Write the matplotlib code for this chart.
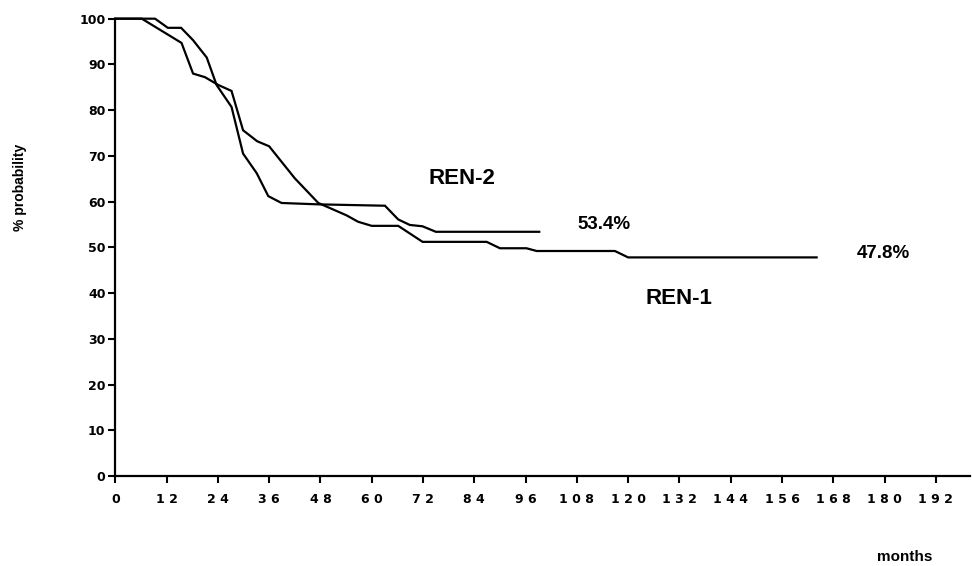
import matplotlib
matplotlib.use("Agg")
import matplotlib.pyplot as plt

# REN-1 curve (months, % probability)
ren1_months = [0, 6.2, 15.5, 18.2, 21.0, 24.1, 27.2, 29.9, 33.2, 36.0, 42.0, 47.5,
               54.1, 56.8, 60.0, 66.2, 71.9, 86.9, 90.0, 96.2, 98.6, 116.9, 120.0, 164.1]
ren1_prob = [100, 100, 94.7, 88.0, 87.2, 85.5, 84.2, 75.6, 73.2, 72.1, 65.1, 59.7,
             57.0, 55.6, 54.7, 54.7, 51.2, 51.2, 49.8, 49.8, 49.2, 49.2, 47.8, 47.8]

# REN-2 curve
ren2_months = [0, 9.3, 12.3, 15.4, 18.2, 21.4, 23.7, 27.2, 29.9, 33.1, 35.8, 38.9,
               47.5, 63.1, 66.2, 68.9, 71.9, 75.0, 99.2]
ren2_prob = [100, 100, 98.0, 98.0, 95.3, 91.5, 85.5, 80.7, 70.5, 66.2, 61.2, 59.7,
             59.4, 59.1, 56.1, 54.9, 54.6, 53.4, 53.4]

x_ticks = list(range(0, 193, 12))
x_tick_labels = [" ".join(str(v)) for v in x_ticks]
y_ticks = list(range(0, 101, 10))

labels = ["REN-2", "53.4%", "47.8%", "REN-1"]
label_pos = [(81.0, 65.1), (114.4, 55.0), (179.8, 48.7), (131.9, 38.8)]
label_sizes = [16, 13.5, 13.5, 16]

fig = plt.figure(figsize=(9.72, 5.66), dpi=100)
ax = fig.add_axes([0.1186, 0.159, 0.8794, 0.808])

ax.plot(ren1_months, ren1_prob, color="black", lw=1.6, clip_on=False, solid_joinstyle="miter")
ax.plot(ren2_months, ren2_prob, color="black", lw=1.6, clip_on=False, solid_joinstyle="miter")

ax.set_xlim(0, 200)
ax.set_ylim(0, 100)
ax.set_xticks(x_ticks)
ax.set_xticklabels(x_tick_labels)
ax.set_yticks(y_ticks)

for s in ["top", "right"]:
    ax.spines[s].set_visible(False)
for s in ["left", "bottom"]:
    ax.spines[s].set_linewidth(1.6)

ax.tick_params(axis="both", direction="out", length=5, width=1.5, labelsize=9)
ax.tick_params(axis="x", pad=7)
ax.tick_params(axis="y", pad=2)
for t in ax.get_xticklabels() + ax.get_yticklabels():
    t.set_fontweight("bold")
    t.set_fontfamily("DejaVu Sans")

for txt, (xx, yy), fs in zip(labels, label_pos, label_sizes):
    ax.text(xx, yy, txt, ha="center", va="center", fontsize=fs,
            fontweight="bold", fontfamily="Liberation Sans")

fig.text(20 / 972, 1 - 187 / 566, "% probability", rotation=90, ha="center", va="center",
         fontsize=10, fontweight="bold", fontfamily="Liberation Sans")
fig.text(905 / 972, 1 - 557 / 566, "months", ha="center", va="center",
         fontsize=11, fontweight="bold", fontfamily="Liberation Sans")

fig.savefig("out.png", dpi=100)
